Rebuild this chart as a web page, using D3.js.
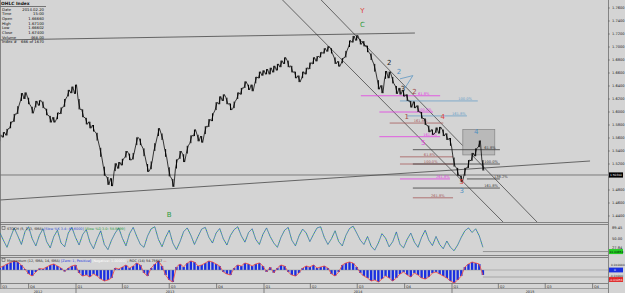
<!DOCTYPE html>
<html>
<head>
<meta charset="utf-8">
<script src="https://cdn.jsdelivr.net/npm/d3@7"></script>
<style>
  body { margin: 0; background: #d4d4d4; }
  svg { display: block; font-family: "DejaVu Sans", sans-serif; }
</style>
</head>
<body>
<div id="chart"></div>
<script>
/* ===== Data ===== */
const firstWeek = "2012-08-06";

const weekHigh = [
  1.565,1.569,1.574,1.585,1.597,1.609,1.629,1.630,1.622,1.608,
  1.617,1.618,1.616,1.605,1.594,1.592,1.599,1.607,1.620,1.634,
  1.639,1.642,1.620,1.604,1.591,1.585,1.580,1.568,1.545,1.516,
  1.500,1.498,1.521,1.523,1.528,1.540,1.536,1.537,1.561,1.559,
  1.544,1.520,1.524,1.552,1.575,1.567,1.543,1.515,1.497,1.527,
  1.540,1.535,1.548,1.564,1.573,1.565,1.563,1.578,1.589,1.598,
  1.615,1.624,1.627,1.622,1.613,1.616,1.630,1.637,1.647,1.642,
  1.642,1.654,1.662,1.664,1.666,1.668,1.671,1.674,1.679,1.684,
  1.679,1.671,1.662,1.656,1.662,1.668,1.676,1.684,1.686,1.692,
  1.698,1.701,1.698,1.684,1.678,1.683,1.694,1.710,1.717,1.718,
  1.712,1.709,1.702,1.690,1.674,1.649,1.641,1.663,1.662,1.654,
  1.640,1.637,1.634,1.627,1.617,1.616,1.610,1.600,1.590,1.579,
  1.573,1.576,1.577,1.573,1.567,1.560,1.530,1.514,1.502,1.514,
  1.526,1.537,1.544,1.556,1.526
];
const weekLow = [
  1.555,1.561,1.564,1.575,1.585,1.597,1.617,1.620,1.612,1.598,
  1.607,1.610,1.606,1.595,1.584,1.584,1.589,1.597,1.608,1.624,
  1.629,1.628,1.604,1.592,1.581,1.575,1.570,1.556,1.531,1.502,
  1.488,1.486,1.509,1.513,1.518,1.530,1.526,1.527,1.549,1.549,
  1.532,1.508,1.512,1.540,1.563,1.557,1.531,1.501,1.485,1.513,
  1.528,1.523,1.536,1.552,1.563,1.555,1.553,1.566,1.577,1.586,
  1.603,1.612,1.617,1.612,1.603,1.606,1.620,1.627,1.637,1.634,
  1.632,1.644,1.652,1.656,1.658,1.658,1.661,1.664,1.669,1.674,
  1.669,1.661,1.652,1.646,1.652,1.658,1.666,1.674,1.678,1.684,
  1.690,1.693,1.690,1.674,1.670,1.675,1.684,1.700,1.707,1.710,
  1.704,1.701,1.692,1.680,1.662,1.635,1.629,1.651,1.652,1.644,
  1.628,1.627,1.624,1.617,1.607,1.606,1.600,1.590,1.580,1.569,
  1.565,1.568,1.567,1.563,1.557,1.548,1.516,1.502,1.492,1.502,
  1.514,1.525,1.532,1.546,1.510
];

const stoch = [
  72,45,20,55,88,60,30,75,92,50, 25,62,85,40,18,58,80,35,22,70,
  90,55,28,65,82,38,15,50,78,30, 12,45,70,88,52,25,68,90,58,30,
  20,60,85,92,48,22,55,80,35,12, 40,75,88,62,30,58,84,90,55,35,
  70,86,50,28,62,82,92,60,38,72, 85,48,30,66,88,58,35,20,55,80,
  90,45,25,60,84,70,40,65,88,92, 55,30,50,78,40,25,62,86,94,70,
  45,30,58,24,10,35,68,52,22,40, 74,30,18,48,70,38,20,55,80,45,
  26,58,30,15,42,20,8,28,55,78, 88,72,85,60,20
];

const momentum = [
  0.005,0.008,0.012,0.015,0.018,0.016,0.010,0.002,-0.008,-0.012,
  -0.004,0.003,0.002,0.006,0.010,0.012,0.008,0.004,-0.003,0.004,
  0.008,0.010,-0.006,-0.012,-0.010,-0.014,-0.008,-0.012,-0.018,-0.022,
  -0.020,-0.016,0.004,0.002,0.006,0.010,0.004,0.008,0.014,0.010,
  -0.006,-0.012,0.004,0.012,0.018,0.008,-0.010,-0.020,-0.024,0.006,
  0.012,0.006,0.014,0.018,0.016,0.008,0.010,0.014,0.018,0.016,
  0.012,0.008,-0.004,-0.008,-0.010,0.004,0.010,0.008,0.014,0.012,
  0.008,0.012,0.014,0.008,-0.004,0.006,-0.006,0.004,0.010,0.008,
  -0.004,-0.010,-0.012,-0.006,0.004,0.008,0.006,0.010,0.004,0.006,
  0.008,0.004,-0.008,-0.012,-0.004,0.010,0.014,0.016,0.014,0.006,
  -0.006,-0.012,-0.016,-0.022,-0.020,-0.024,-0.018,-0.012,-0.016,-0.022,
  -0.016,-0.008,-0.004,-0.010,-0.014,-0.006,-0.010,-0.016,-0.018,-0.014,
  -0.006,-0.004,-0.008,-0.012,-0.016,-0.022,-0.026,-0.020,-0.012,0.006,
  0.012,0.016,0.014,0.012,-0.010
];

const priceTicks = [1.76,1.74,1.72,1.70,1.68,1.66,1.64,1.62,1.60,1.58,1.56,1.54,1.52,1.50,1.48,1.46,1.44];
const stochTicks = [["89.45", 89.45], ["50.00", 50], ["27.84", 20]];
const lastPrice = 1.5031;

const quarterTicks = [
  ["2012-08-08","Q3"],["2012-10-01","Q4"],["2013-01-01","Q1"],["2013-04-01","Q2"],["2013-07-01","Q3"],
  ["2013-10-01","Q4"],["2014-01-01","Q1"],["2014-04-01","Q2"],["2014-07-01","Q3"],["2014-10-01","Q4"],
  ["2015-01-01","Q1"],["2015-04-01","Q2"],["2015-07-01","Q3"],["2015-10-01","Q4"]
];
const years = ["2012","2013","2014","2015"];

const dataWindow = [
  ["Date","2014.02.20"],["Time","15:00"],["Open","1.66660"],["High","1.67100"],
  ["Low","1.66602"],["Close","1.67400"],["Volume","468.00"],["Index #","666 of 1670"]
];

// trend lines: [startDate, startPrice, endDate, endPrice]
const trendLines = [
  ["2012-08-06",1.4646,"2015-09-26",1.5246],
  ["2012-08-06",1.7108,"2014-10-21",1.7215],
  ["2014-02-06",1.7723,"2015-04-10",1.4308],
  ["2014-04-22",1.7723,"2015-06-15",1.4308]
];

// fibonacci levels: [price, label, startDate, endDate]
const fibMagenta = [
  [1.625,"61.8%","2014-07-08","2014-12-09"],
  [1.600,"100.0%","2014-08-13","2014-11-25"],
  [1.562,"161.8%","2014-08-13","2014-12-09"],
  [1.497,"261.8%","2014-09-22","2014-12-28"]
];
const fibBlue = [
  [1.617,"100.0%","2014-09-22","2015-02-20"],
  [1.594,"161.8%","2014-10-06","2015-01-30"]
];
const fibBrown = [
  [1.583,"161.8%","2014-09-02","2014-12-15"],
  [1.531,"61.8%","2014-09-22","2015-01-03"],
  [1.520,"100.0%","2014-09-22","2015-01-03"],
  [1.468,"261.8%","2014-10-17","2015-01-03"]
];
const fibBlack = [
  [1.542,"61.8%","2014-10-17","2015-04-04"],
  [1.520,"100.0%","2014-10-17","2015-04-04"],
  [1.497,"138.2%","2015-01-30","2015-04-04"],
  [1.483,"161.8%","2014-10-17","2015-04-04"]
];

// wave labels: [text, date, price, colour key]
const waveLabels = [
  ["Y","2014-07-11",1.752,"red"],["C","2014-07-11",1.731,"green"],["B","2013-07-01",1.438,"green"],
  ["2","2014-09-01",1.673,"black"],["2","2014-09-20",1.658,"blue"],["2","2014-10-20",1.628,"brown"],
  ["1","2014-10-05",1.589,"brown"],["3","2014-09-28",1.632,"black"],["4","2014-12-14",1.589,"red"],
  ["5","2014-11-06",1.550,"magenta"],["4","2015-02-17",1.566,"blue"],["5","2015-01-20",1.489,"red"],
  ["3","2015-01-20",1.476,"blue"]
];
const box4 = ["2015-01-22",1.573,"2015-03-25",1.534];

/* ===== Drawing ===== */
const W = 625, H = 293, plotRight = 608;
const colors = {red: "#e0403a", green: "#2e9a3a", black: "#222", blue: "#4f8fc0", brown: "#a14848", magenta: "#e040e0"};
const parse = d3.utcParse("%Y-%m-%d");

const svg = d3.select("#chart").append("svg").attr("width", W).attr("height", H);
svg.append("rect").attr("width", W).attr("height", H).attr("fill", "#d4d4d4");

const x = d3.scaleUtc().domain([parse("2013-01-01"), parse("2015-01-01")]).range([76, 452]);
const y = d3.scaleLinear().domain([1.44, 1.76]).range([216, 8]);
const yStoch = d3.scaleLinear().domain([0, 100]).range([253, 224.5]);
const yMom = d3.scaleLinear().domain([-0.026, 0.026]).range([283, 257]);

const start = parse(firstWeek);
const weeks = weekHigh.map((h, i) => ({date: d3.utcDay.offset(start, 7 * i), high: h, low: weekLow[i]}));
const lastX = x(weeks[weeks.length - 1].date);

svg.append("clipPath").attr("id", "mainClip").append("rect").attr("x", 0).attr("y", 0).attr("width", plotRight).attr("height", 222);
const main = svg.append("g").attr("clip-path", "url(#mainClip)");

// trend lines
main.selectAll(".trend").data(trendLines).join("line")
    .attr("x1", d => x(parse(d[0]))).attr("y1", d => y(d[1]))
    .attr("x2", d => x(parse(d[2]))).attr("y2", d => y(d[3]))
    .attr("stroke", "#333").attr("stroke-width", 0.7);

// current price line
main.append("line").attr("x1", 0).attr("x2", plotRight).attr("y1", y(lastPrice)).attr("y2", y(lastPrice))
    .attr("stroke", "#555").attr("stroke-width", 0.7);

// box around wave 4
main.append("rect")
    .attr("x", x(parse(box4[0]))).attr("y", y(box4[1]))
    .attr("width", x(parse(box4[2])) - x(parse(box4[0]))).attr("height", y(box4[3]) - y(box4[1]))
    .attr("fill", "#b9b9b9").attr("stroke", "#8a8a8a").attr("stroke-width", 0.8);

// fib levels, label sits at a fraction of the segment
function drawFibs(levels, color, at) {
    const g = main.append("g");
    levels.forEach(d => {
        const x1 = x(parse(d[2])), x2 = x(parse(d[3])), yy = y(d[0]);
        g.append("line").attr("x1", x1).attr("x2", x2).attr("y1", yy).attr("y2", yy)
         .attr("stroke", color).attr("stroke-width", 0.8);
        g.append("text").attr("x", x1 + (x2 - x1) * at).attr("y", yy - 1).text(d[1])
         .attr("font-size", 3.6).attr("fill", color);
    });
}
drawFibs(fibMagenta, "#e23de2", 0.72);
drawFibs(fibBlue, "#6aa0c8", 0.75);
drawFibs(fibBrown, "#a65a5a", 0.45);
drawFibs(fibBlack, "#3a3a3a", 0.82);

// small wedge at the blue 2
main.append("path")
    .attr("d", d3.line()([[x(parse("2014-09-22")), y(1.651)], [x(parse("2014-10-17")), y(1.656)], [x(parse("2014-10-01")), y(1.636)]]))
    .attr("fill", "none").attr("stroke", colors.blue).attr("stroke-width", 0.7);

// price bars
main.selectAll(".bar").data(weeks).join("line")
    .attr("x1", d => x(d.date)).attr("x2", d => x(d.date))
    .attr("y1", d => y(d.high)).attr("y2", d => y(d.low))
    .attr("stroke", "#000").attr("stroke-width", 1);
const zig = [];
weeks.forEach((w, i) => {
    const xi = x(w.date);
    const up = i === 0 || (w.high + w.low) >= (weeks[i - 1].high + weeks[i - 1].low);
    if (up) { zig.push([xi - 1, y(w.low)], [xi + 1, y(w.high)]); }
    else { zig.push([xi - 1, y(w.high)], [xi + 1, y(w.low)]); }
});
main.append("path").attr("d", d3.line()(zig)).attr("fill", "none").attr("stroke", "#000").attr("stroke-width", 0.75);

// wave labels
main.selectAll(".wave").data(waveLabels).join("text")
    .attr("x", d => x(parse(d[1]))).attr("y", d => y(d[2]))
    .attr("text-anchor", "middle").attr("font-size", 7).attr("fill", d => colors[d[3]])
    .text(d => d[0]);

// data window
const dw = svg.append("g").attr("font-size", 3.8).attr("fill", "#111");
dw.append("text").attr("x", 1).attr("y", 5).attr("font-weight", "bold").attr("font-size", 4.4).text("OHLC Index");
dw.append("line").attr("x1", 0).attr("x2", 46).attr("y1", 6.5).attr("y2", 6.5).attr("stroke", "#333").attr("stroke-width", 0.6);
dataWindow.forEach((d, i) => {
    dw.append("text").attr("x", 2).attr("y", 10.5 + i * 4.7).text(d[0]);
    dw.append("text").attr("x", 44).attr("y", 10.5 + i * 4.7).attr("text-anchor", "end").text(d[1]);
});

// panel frames
const sep = svg.append("g").attr("stroke", "#6e6e6e").attr("stroke-width", 0.8);
[222.5, 224.5, 255.5, 257.5, 283.5].forEach(v => sep.append("line").attr("x1", 0).attr("x2", plotRight).attr("y1", v).attr("y2", v));
sep.append("line").attr("x1", plotRight + 0.5).attr("x2", plotRight + 0.5).attr("y1", 0).attr("y2", H);
sep.append("line").attr("x1", 0.5).attr("x2", 0.5).attr("y1", 0).attr("y2", 283);

// price axis
const axis = svg.append("g").attr("font-size", 3.6).attr("fill", "#222");
priceTicks.forEach(p => {
    axis.append("line").attr("x1", plotRight).attr("x2", plotRight + 2).attr("y1", y(p)).attr("y2", y(p)).attr("stroke", "#555").attr("stroke-width", 0.5);
    if (Math.abs(y(p) - y(lastPrice)) > 4) {
        axis.append("text").attr("x", plotRight + 4).attr("y", y(p) + 1.3).text(p.toFixed(4));
    }
});
const boxFont = 2.9;
axis.append("rect").attr("x", plotRight + 1).attr("y", y(lastPrice) - 2.6).attr("width", 14).attr("height", 5.2).attr("fill", "#000");
axis.append("text").attr("x", plotRight + 2).attr("y", y(lastPrice) + 1.1).attr("font-size", boxFont).attr("fill", "#fff").text(lastPrice.toFixed(5));

// stochastic panel
const stochPts = stoch.map((v, i) => [x(weeks[i].date), yStoch(v)]);
const stochLine = d3.line()(stochPts);
svg.append("path").attr("d", stochLine).attr("fill", "none").attr("stroke", "#35b03f").attr("stroke-width", 0.9).attr("stroke-dasharray", "1.2,1.2");
svg.append("path").attr("d", stochLine).attr("fill", "none").attr("stroke", "#2e4fd8").attr("stroke-width", 0.9).attr("stroke-dasharray", "1.2,1.2").attr("stroke-dashoffset", 1.2);
svg.append("line").attr("x1", lastX).attr("x2", plotRight).attr("y1", yStoch(5)).attr("y2", yStoch(5)).attr("stroke", "#777").attr("stroke-width", 0.7);
stochTicks.forEach(t => axis.append("text").attr("x", plotRight + 4).attr("y", yStoch(t[1]) + 1.3).text(t[0]));
axis.append("rect").attr("x", plotRight + 1).attr("y", yStoch(5) - 2.5).attr("width", 14).attr("height", 5).attr("fill", "#22cc22");
axis.append("text").attr("x", plotRight + 1.5).attr("y", yStoch(5) + 1.1).attr("font-size", boxFont).attr("fill", "#000").text("11.44654");
const sh = svg.append("text").attr("x", 7).attr("y", 229.5).attr("font-size", 3.4).attr("fill", "#222");
sh.append("tspan").text("STOCH (5, 3, 3, SMA) ");
sh.append("tspan").attr("fill", "#2e4fd8").text("[Slow %K 3.4: 45.6000] ");
sh.append("tspan").attr("fill", "#2e9a3a").text("[Slow %D 3.0: 58.9999]");
svg.append("rect").attr("x", 2).attr("y", 226.5).attr("width", 3).attr("height", 3).attr("fill", "none").attr("stroke", "#444").attr("stroke-width", 0.5);

// momentum panel
svg.selectAll(".mom").data(momentum).join("line")
    .attr("x1", (d, i) => x(weeks[i].date)).attr("x2", (d, i) => x(weeks[i].date))
    .attr("y1", yMom(0)).attr("y2", d => yMom(d))
    .attr("stroke", "#1a2fe0").attr("stroke-width", 2.4);
svg.append("path").attr("d", d3.line()(momentum.map((v, i) => [x(weeks[i].date), yMom(v)])))
    .attr("fill", "none").attr("stroke", "#f0504a").attr("stroke-width", 0.9);
svg.append("line").attr("x1", 0).attr("x2", plotRight).attr("y1", yMom(0)).attr("y2", yMom(0)).attr("stroke", "#888").attr("stroke-width", 0.5);
svg.append("line").attr("x1", lastX).attr("x2", plotRight).attr("y1", yMom(-0.014)).attr("y2", yMom(-0.014)).attr("stroke", "#888").attr("stroke-width", 0.6);
axis.append("text").attr("x", plotRight + 3).attr("y", yMom(0.011) + 1.1).attr("font-size", boxFont).text("0.010000");
axis.append("rect").attr("x", plotRight + 1).attr("y", yMom(0) - 2.4).attr("width", 14).attr("height", 4.8).attr("fill", "#1a2fe0");
axis.append("text").attr("x", plotRight + 6).attr("y", yMom(0) + 1.1).attr("font-size", boxFont).attr("fill", "#fff").text("0");
axis.append("text").attr("x", plotRight + 2).attr("y", yMom(-0.011) + 1.1).attr("font-size", boxFont).text("-0.01000");
axis.append("rect").attr("x", plotRight + 1).attr("y", yMom(-0.019) - 2.4).attr("width", 14).attr("height", 4.8).attr("fill", "#e02020");
axis.append("text").attr("x", plotRight + 1.5).attr("y", yMom(-0.019) + 1.1).attr("font-size", boxFont).attr("fill", "#fff").text("-0.01056");
const mh = svg.append("text").attr("x", 7).attr("y", 261.5).attr("font-size", 3.4).attr("fill", "#222");
mh.append("tspan").text("Momentum (12, SMA, 14, SMA) ");
mh.append("tspan").attr("fill", "#1a2fe0").text("[Zero: 1, Positive] ");
mh.append("tspan").attr("fill", "#fff").text("[Negative: 1.00000] ");
mh.append("tspan").text(", ROC (14) 54.75647 ");
mh.append("tspan").attr("fill", "#e02020").text("\u2014");
svg.append("rect").attr("x", 2).attr("y", 258.5).attr("width", 3).attr("height", 3).attr("fill", "none").attr("stroke", "#444").attr("stroke-width", 0.5);

// time axis
const tx = svg.append("g").attr("font-size", 3.4).attr("fill", "#222");
quarterTicks.forEach(q => {
    const xq = x(parse(q[0]));
    const isYear = q[1] === "Q1";
    tx.append("line").attr("x1", xq).attr("x2", xq).attr("y1", 283.5).attr("y2", isYear ? H : 288.5)
      .attr("stroke", "#444").attr("stroke-width", 0.6);
    tx.append("text").attr("x", xq + 1.5).attr("y", 287.5).text(q[1]);
});
tx.append("line").attr("x1", 0).attr("x2", plotRight).attr("y1", 288.5).attr("y2", 288.5).attr("stroke", "#666").attr("stroke-width", 0.5);
years.forEach(yr => {
    const a = Math.max(0, x(parse(yr + "-01-01")));
    const b = Math.min(plotRight, x(parse((+yr + 1) + "-01-01")));
    tx.append("text").attr("x", (a + b) / 2).attr("y", 292.5).attr("text-anchor", "middle").text(yr);
});
</script>
</body>
</html>
